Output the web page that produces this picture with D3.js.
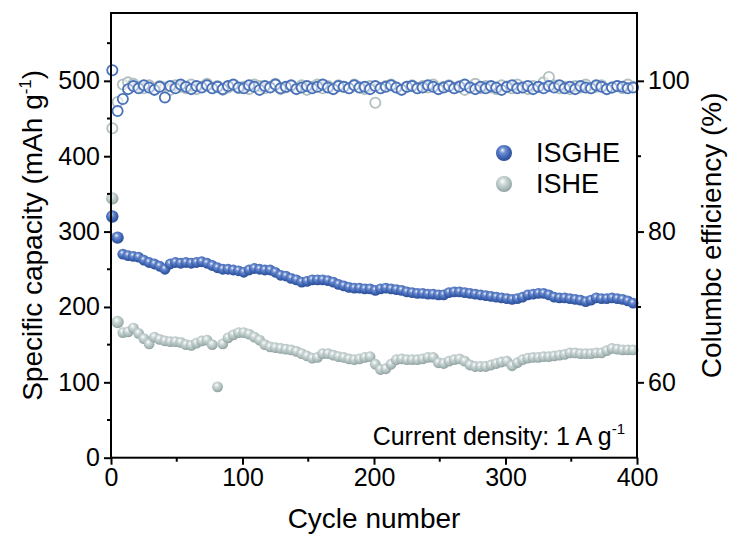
<!DOCTYPE html>
<html>
<head>
<meta charset="utf-8">
<script src="https://cdn.jsdelivr.net/npm/d3@7"></script>
<style>
  body { margin: 0; background: #fff; }
  svg { display: block; font-family: "Liberation Sans", Arial, sans-serif; }
</style>
</head>
<body>
<div id="chart"></div>
<script>
// cycle number of each sample (one marker every 4 cycles)
const cycles = d3.range(1, 400, 4);

// specific capacity, mAh g-1
const capISGHE = [
  320, 292, 270, 268, 267, 266, 262, 259, 257, 254,
  250, 257, 259, 258, 259, 258, 259, 260, 258, 255,
  252, 250, 250, 249, 248, 246, 249, 251, 250, 249,
  249, 246, 242, 241, 238, 236, 233, 234, 236, 236,
  236, 235, 233, 230, 228, 226, 225, 225, 224, 224,
  222, 224, 225, 224, 223, 222, 220, 219, 218, 218,
  217, 217, 216, 216, 219, 220, 220, 219, 218, 217,
  216, 215, 214, 213, 212, 211, 210, 211, 213, 216,
  217, 218, 218, 216, 213, 212, 212, 211, 210, 209,
  207, 209, 212, 211, 211, 212, 211, 210, 208, 205
];
const capISHE = [
  344, 180, 166, 167, 172, 165, 158, 151, 160, 157,
  155, 154, 154, 153, 150, 149, 152, 155, 156, 150,
  94, 151, 159, 163, 166, 166, 164, 160, 156, 150,
  147, 146, 145, 144, 143, 141, 138, 135, 132, 133,
  138, 138, 136, 134, 133, 131, 130, 131, 133, 134,
  124, 117, 118, 124, 130, 131, 130, 130, 130, 131,
  133, 133, 126, 125, 128, 130, 131, 128, 123, 121,
  121, 121, 123, 125, 127, 128, 122, 126, 130, 132,
  133, 133, 134, 134, 135, 136, 137, 139, 139, 138,
  138, 138, 139, 139, 142, 145, 144, 143, 143, 143
];

// coulombic efficiency, %
const ceISGHE = [
  101.4, 96.0, 97.6, 98.9, 99.3, 99.0, 99.4, 99.1, 98.8, 99.2,
  97.8, 99.3, 99.0, 99.5, 99.2, 98.9, 99.3, 99.1, 99.4, 99.0,
  99.2, 98.9, 99.3, 99.5, 99.1, 99.0, 99.4, 99.2, 98.8, 99.3,
  99.1, 99.5, 99.0, 99.2, 99.4, 98.9, 99.1, 99.3, 99.0, 99.2,
  99.5, 99.1, 98.9, 99.3, 99.2, 99.0, 99.4, 99.1, 99.2, 98.9,
  99.3, 99.0, 99.2, 99.4, 99.1, 98.8, 99.2, 99.3, 99.0, 99.1,
  99.4, 99.2, 98.9, 99.1, 99.3, 99.0, 99.2, 99.5, 99.1, 98.9,
  99.2, 99.0, 99.3, 99.1, 98.8, 99.2, 99.4, 99.0, 99.1, 99.3,
  98.9, 99.2, 99.0, 99.3, 99.1, 99.4, 99.0, 99.2, 98.9, 99.3,
  99.1, 99.0, 99.4, 99.2, 98.9, 99.1, 99.3, 99.2, 99.0, 99.1
];
const ceISHE = [
  93.7, 97.2, 99.5, 99.8, 99.6, 99.2, 99.0, 99.4, 98.9, 99.3,
  99.1, 98.8, 99.4, 99.2, 99.0, 99.5, 98.9, 99.2, 99.6, 99.0,
  99.3, 98.8, 99.1, 99.4, 99.0, 99.2, 98.9, 99.5, 99.3, 99.0,
  99.2, 99.6, 98.9, 99.1, 99.3, 99.0, 99.4, 98.8, 99.2, 99.5,
  99.0, 99.3, 98.9, 99.4, 99.2, 99.0, 99.5, 99.1, 98.9, 99.3,
  97.1, 99.0, 99.3, 99.5, 99.1, 98.9, 99.2, 99.4, 99.0, 99.3,
  99.1, 99.5, 98.9, 99.2, 99.4, 99.0, 99.3, 98.8, 99.2, 99.6,
  99.0, 99.3, 99.1, 98.9, 99.4, 99.2, 99.0, 99.5, 99.1, 98.9,
  99.3, 99.2, 99.8, 100.5, 99.4, 99.0, 99.2, 98.9, 99.3, 99.1,
  99.5, 99.0, 99.2, 99.4, 98.9, 99.1, 99.3, 99.0, 99.5, 99.2
];

const xTicks = [0, 100, 200, 300, 400];
const yTicks = [0, 100, 200, 300, 400, 500];
const ceTicks = [60, 80, 100];

const width = 732, height = 540;
const plotL = 111, plotR = 637, plotT = 13, plotB = 457.7;

const svg = d3.select("#chart").append("svg")
  .attr("width", width)
  .attr("height", height);

// sphere shading for the capacity markers
const defs = svg.append("defs");
function sphere(id, stops) {
  const g = defs.append("radialGradient")
    .attr("id", id)
    .attr("cx", "45%").attr("cy", "40%").attr("r", "60%")
    .attr("fx", "40%").attr("fy", "32%");
  stops.forEach(s => g.append("stop").attr("offset", s[0]).attr("stop-color", s[1]));
}
sphere("blueBall", [["0%", "#f2f5fb"], ["30%", "#6f8fd0"], ["70%", "#3d63b2"], ["100%", "#2c4d94"]]);
sphere("greyBall", [["0%", "#ffffff"], ["35%", "#cdd8d7"], ["75%", "#a9bab9"], ["100%", "#8d9f9e"]]);

const x = d3.scaleLinear().domain([0, 400]).range([plotL, plotR]);
const y = d3.scaleLinear().domain([0, 590]).range([plotB, plotT]);
const yCE = d3.scaleLinear().domain([50, 109]).range([plotB, plotT]);

// CE, open circles
const ceSets = [
  { data: ceISHE, color: "#b3c0c0" },
  { data: ceISGHE, color: "#4a72ba" }
];
ceSets.forEach(s => {
  svg.append("g").selectAll("circle")
    .data(cycles)
    .join("circle")
    .attr("cx", (c) => x(c))
    .attr("cy", (c, i) => yCE(s.data[i]))
    .attr("r", 5.1)
    .attr("fill", "#fff")
    .attr("fill-opacity", 0.5)
    .attr("stroke", s.color)
    .attr("stroke-width", 1.8);
});

// capacity, shaded spheres
const capSets = [
  { data: capISHE, fill: "url(#greyBall)" },
  { data: capISGHE, fill: "url(#blueBall)" }
];
capSets.forEach(s => {
  svg.append("g").selectAll("circle")
    .data(cycles)
    .join("circle")
    .attr("cx", (c) => x(c))
    .attr("cy", (c, i) => y(s.data[i]))
    .attr("r", (c, i) => i < 2 ? 6.2 : 5.4)
    .attr("fill", s.fill);
});

// axes
const axisW = 2;
const bottomAxis = d3.axisBottom(x).tickValues(xTicks).tickSize(7).tickPadding(4);
const leftAxis = d3.axisLeft(y).tickValues(yTicks).tickSize(7).tickPadding(4);
const rightAxis = d3.axisRight(yCE).tickValues(ceTicks).tickSize(7).tickPadding(4);

function styleAxis(g) {
  g.select(".domain").remove();
  g.selectAll("line").attr("stroke", "#000").attr("stroke-width", axisW);
  g.selectAll("text").attr("fill", "#000").attr("font-size", 25)
    .attr("font-family", "'Liberation Sans', Arial, sans-serif");
}

svg.append("g").attr("transform", `translate(0,${plotB})`).call(bottomAxis).call(styleAxis);
svg.append("g").attr("transform", `translate(${plotL},0)`).call(leftAxis).call(styleAxis);
svg.append("g").attr("transform", `translate(${plotR},0)`).call(rightAxis).call(styleAxis);

// minor ticks
const minor = svg.append("g").attr("stroke", "#000").attr("stroke-width", axisW);
[50, 150, 250, 350].forEach(v => {
  minor.append("line").attr("x1", x(v)).attr("x2", x(v)).attr("y1", plotB).attr("y2", plotB + 4);
});
[50, 150, 250, 350, 450, 550].forEach(v => {
  minor.append("line").attr("x1", plotL).attr("x2", plotL - 4).attr("y1", y(v)).attr("y2", y(v));
});
[70, 90].forEach(v => {
  minor.append("line").attr("x1", plotR).attr("x2", plotR + 4).attr("y1", yCE(v)).attr("y2", yCE(v));
});

// frame
svg.append("rect")
  .attr("x", plotL).attr("y", plotT)
  .attr("width", plotR - plotL).attr("height", plotB - plotT)
  .attr("fill", "none").attr("stroke", "#000").attr("stroke-width", axisW);

// axis titles
svg.append("text")
  .attr("x", (plotL + plotR) / 2).attr("y", 528)
  .attr("text-anchor", "middle").attr("font-size", 28)
  .text("Cycle number");

const yTitle = svg.append("text")
  .attr("transform", `translate(42,${(plotT + plotB) / 2}) rotate(-90)`)
  .attr("text-anchor", "middle").attr("font-size", 28);
yTitle.append("tspan").text("Specific capacity (mAh g");
yTitle.append("tspan").attr("font-size", 17).attr("dy", -11).text("-1");
yTitle.append("tspan").attr("dy", 11).text(")");

svg.append("text")
  .attr("transform", `translate(721,${(plotT + plotB) / 2}) rotate(-90)`)
  .attr("text-anchor", "middle").attr("font-size", 28)
  .text("Columbc efficiency (%)");

// legend
const legend = [
  { name: "ISGHE", fill: "url(#blueBall)", y: 153 },
  { name: "ISHE", fill: "url(#greyBall)", y: 184 }
];
legend.forEach(l => {
  svg.append("circle").attr("cx", 504).attr("cy", l.y).attr("r", 8).attr("fill", l.fill);
  svg.append("text").attr("x", 536).attr("y", l.y + 9).attr("font-size", 27).text(l.name);
});

// annotation
const note = svg.append("text")
  .attr("x", 625).attr("y", 445)
  .attr("text-anchor", "end").attr("font-size", 25);
note.append("tspan").text("Current density: 1 A g");
note.append("tspan").attr("font-size", 15).attr("dy", -11).text("-1");
</script>
</body>
</html>
